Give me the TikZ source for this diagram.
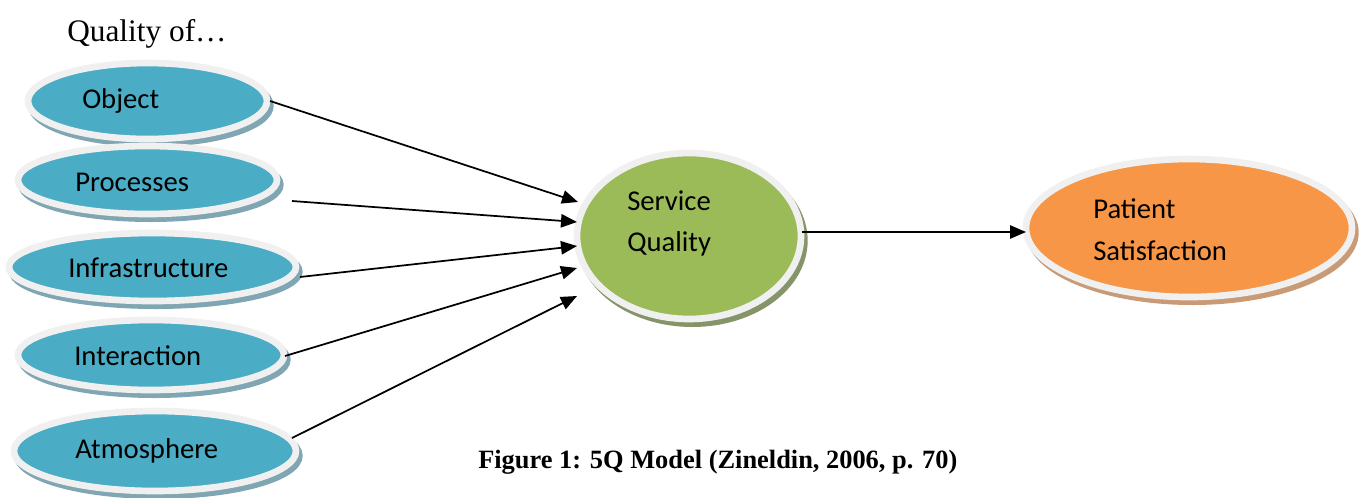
\documentclass[tikz,border=0pt]{standalone}
\usepackage{fontspec}
\setmainfont{Liberation Serif}
\newfontfamily\calibri{Carlito}
\usetikzlibrary{shapes.geometric,shadows,arrows.meta}

\definecolor{tealfill}{HTML}{4BACC6}
\definecolor{tealshade}{HTML}{7FA6B2}
\definecolor{greenfill}{HTML}{9BBB59}
\definecolor{greenshade}{HTML}{86946A}
\definecolor{orangefill}{HTML}{F79646}
\definecolor{orangeshade}{HTML}{C89A76}
\definecolor{rim}{HTML}{F0F0F0}

\tikzset{
  disc/.style n args={4}{ellipse, inner sep=0pt, outer sep=0pt,
    minimum width=#1*0.75pt, minimum height=#2*0.75pt,
    fill=#3, draw=rim, line width=5pt,
    general shadow={fill=#4, draw=#4, line width=5pt,
      shadow xshift=2.5pt, shadow yshift=-3.5pt}},
  lbl/.style={anchor=base west, inner sep=0pt,
    font=\calibri\fontsize{21.5}{26}\selectfont},
  link/.style={line width=1.3pt, -{Triangle[length=12pt,width=10pt]}},
}

\begin{document}
\begin{tikzpicture}[x=0.75pt,y=-0.75pt]
\useasboundingbox (0,0) rectangle (1363,497);

% quality dimensions
\node[disc={239}{76}{tealfill}{tealshade}]   (obj)   at (147.5,101) {};
\node[disc={259}{68}{tealfill}{tealshade}]   (proc)  at (147.5,180) {};
\node[disc={287}{68}{tealfill}{tealshade}]   (infra) at (152.5,267) {};
\node[disc={266}{70}{tealfill}{tealshade}]   (inter) at (151,355) {};
\node[disc={282}{80}{tealfill}{tealshade}]   (atmo)  at (155,451) {};

% service quality and outcome
\node[disc={224}{166}{greenfill}{greenshade}]  (sq) at (689,236) {};
\node[disc={326}{138}{orangefill}{orangeshade}] (ps) at (1189,228) {};

% labels
\node[lbl] (tobj)   at (82,108)  {Object};
\node[lbl] (tproc)  at (75,191)  {Processes};
\node[lbl] (tinfra) at (68,277)  {Infrastructure};
\node[lbl] (tinter) at (74,365)  {Interaction};
\node[lbl] (tatmo)  at (75,458)  {Atmosphere};
\node[lbl] (tsq1)   at (627,210) {Service};
\node[lbl] (tsq2)   at (627,251) {Quality};
\node[lbl] (tps1)   at (1093,218) {Patient};
\node[lbl] (tps2)   at (1093,260) {Satisfaction};

\node[anchor=base west, inner sep=0pt, font=\fontsize{23.5}{28}\selectfont]
  (head) at (67,41) {Quality of…};
\node[anchor=base west, inner sep=0pt, font=\bfseries\fontsize{19.8}{24}\selectfont]
  (cap) at (478,468) {Figure 1: 5Q Model (Zineldin, 2006, p. 70)};

% connectors into service quality
\draw[link] ([xshift=2.25pt]obj.east)            -- ([shift={(0.75pt,25.5pt)}]sq.west);
\draw[link] ([shift={(11.25pt,-15.75pt)}]proc.east) -- ([yshift=10.5pt]sq.west);
\draw[link] ([shift={(3pt,-7.5pt)}]infra.east)   -- ([yshift=-7.5pt]sq.west);
\draw[link] ([shift={(0.75pt,-0.75pt)}]inter.east) -- ([yshift=-24pt]sq.west);
\draw[link] ([shift={(-3pt,9.75pt)}]atmo.east)   -- ([yshift=-45pt]sq.west);
% service quality to satisfaction
\draw[link] ([shift={(0.75pt,3pt)}]sq.east) -- ([yshift=-3pt]ps.west);
\end{tikzpicture}
\end{document}
